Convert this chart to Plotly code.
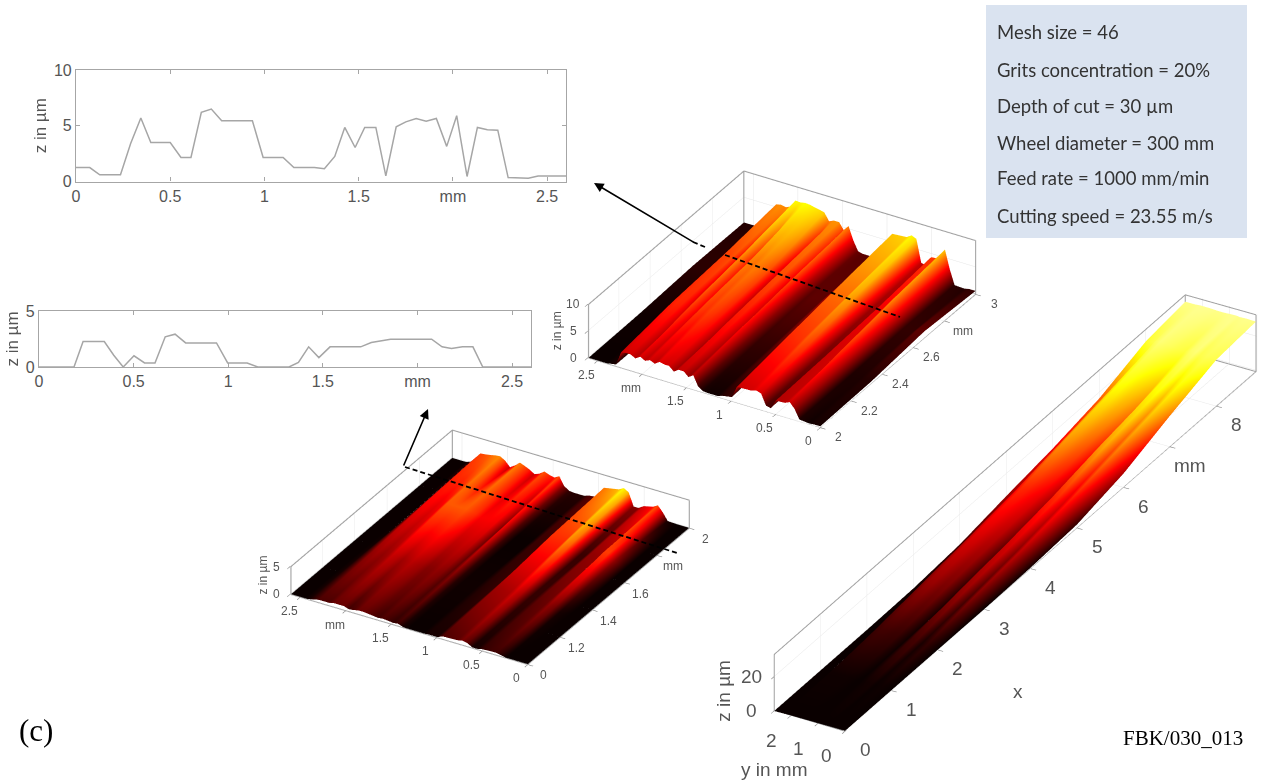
import math
import plotly.graph_objects as go

W, H = 1262, 783
# ---- profile charts
line1_x = [0,.073,.126,.236,.29,.344,.397,.5,.557,.61,.665,.718,.773,.936,.993,1.099,1.156,1.265,1.318,1.373,1.426,1.481,1.532,1.591,1.644,1.699,1.75,1.805,1.858,1.912,1.967,2.02,2.075,2.13,2.183,2.238,2.293,2.4,2.452,2.6]
line1_z = [1.25,1.25,.6,.6,3.4,5.7,3.5,3.5,2.15,2.15,6.2,6.5,5.45,5.45,2.15,2.15,1.25,1.25,1.15,2.25,4.85,3.05,4.85,4.85,.5,4.9,5.35,5.65,5.4,5.65,3.15,5.9,.45,4.85,4.65,4.6,.35,.3,.5,.5]
line2_x = [0,.185,.233,.345,.395,.445,.502,.558,.613,.667,.719,.775,.938,.997,1.1,1.156,1.321,1.371,1.425,1.479,1.538,1.7,1.756,1.858,1.97,2.075,2.13,2.18,2.238,2.293,2.345,2.6]
line2_z = [0,0,2.27,2.27,1.05,0,1,.36,.36,2.7,2.93,2.15,2.15,.36,.36,0,0,.4,1.8,.84,1.8,1.8,2.18,2.48,2.48,2.48,1.8,1.65,1.8,1.8,0,0]
# ---- surfaces
y_grid = line1_x
top_x = [2.0, 2.33, 2.67, 3.0]
top_z0 = [.2,.2,.1,.3,2.0,3.0,2.6,2.5,.8,1.0,3.0,3.3,3.0,2.9,.7,.4,.1,.1,.2,.8,2.6,2.0,2.8,2.8,2.2,3.0,3.0,3.2,2.6,3.0,2.6,3.1,2.5,3.0,3.0,2.8,.3,0,0,0]
top_z1 = [.4,.4,.3,.3,2.6,4.4,3.0,2.9,1.5,1.6,4.6,5.0,4.4,4.2,1.4,1.2,.6,.6,.6,1.6,3.8,2.8,3.9,3.9,2.4,4.0,4.4,4.6,4.3,4.6,3.4,4.7,2.8,4.1,4.2,4.0,.3,.1,.1,.1]
top_z2 = line1_z
top_z3 = [.6,.6,.4,.5,3.2,6.6,4.6,4.4,2.6,2.8,7.0,7.4,6.8,6.6,2.8,2.6,1.2,1.2,1.4,3.2,5.6,4.6,5.8,5.8,5.4,6.8,7.0,7.2,7.4,7.5,7.3,7.4,6.0,5.6,5.8,5.6,.5,.3,.4,.4]
bot_x = [1.0, 1.33, 1.67, 2.0]
bot_z0 = [0,0,0,0,.2,.4,.4,.3,.1,.1,.6,.8,.6,.5,.1,.1,0,0,0,.1,.4,.3,.4,.5,.4,.5,.6,.7,.7,.5,.4,.7,.7,.7,.5,.5,.5,.1,0,0]
bot_z1 = [0,0,0,.1,.8,1.0,.7,.6,.3,.3,1.2,1.5,1.2,1.1,.3,.2,.05,.05,.05,.2,.9,.6,.9,1.0,.9,.9,1.1,1.2,1.3,1.2,1.1,1.3,1.4,1.1,1.0,1.1,1.0,.1,0,0]
bot_z2 = [0,0,0,1.0,2.27,2.27,1.05,1.0,.36,.36,2.65,2.93,2.15,2.15,.4,.36,0,0,0,.4,1.8,.84,1.75,1.8,1.8,1.8,2.15,2.3,2.48,2.48,2.48,2.48,2.48,1.8,1.65,1.8,1.8,0,0,0]
bot_z3 = [0,0,0,.1,1.4,2.4,1.9,1.5,.9,.9,3.2,3.7,3.2,2.7,.7,.5,.2,.2,.3,.9,2.4,1.9,2.1,2.45,1.8,1.45,2.0,2.4,2.75,2.0,1.4,2.3,2.85,2.75,2.55,2.4,2.3,.3,0,0]
big_y = [0,.35,.6,.72,.93,1.16,1.43,1.6,1.85,2.05,2.25,2.3,2.6]
big_x = [0,1,2,3,4,5,6,7,8,8.85]
big_z = [
 [0,0,0,0,0,0,0,0,0,0,0,0,0],
 [0,.3,.1,.5,.4,0,.2,.3,.3,.3,.3,0,0],
 [0,2.0,.8,3.0,2.7,.4,2.3,2.4,2.7,2.8,2.4,.2,0],
 [0,6,3,7,6.5,1,5.5,5.5,7,7,5.5,.5,.5],
 [.5,9,6,10,9.5,3,8,8.5,10,10.5,8.5,3,2.5],
 [2,13,10,14,13.5,7,11,12,13.5,14,12,8,7],
 [8,18,15,20,19,12,16,17,19,20,17,13,11],
 [18,23,20,24,23.5,19,21,22,24,24.5,22,18,16.5],
 [27,27.5,27,28.5,28,26.5,27,27.5,28,28.5,27.5,27,26],
 [29,29.2,29,29.3,29.2,29,29,29.2,29.3,29.3,29,29,29],
]
hot = [[0,"#0a0000"],[.365,"#ff0000"],[.746,"#ffff00"],[1,"#ffffff"]]
box_lines = ["Mesh size = 46","Grits concentration = 20%","Depth of cut = 30 µm","Wheel diameter = 300 mm","Feed rate = 1000 mm/min","Cutting speed = 23.55 m/s"]
box_rows = [32,70,106,143,178,216]
K = 1.0   # px-per-unit calibration

def frame(xr, yr, zr):
    x0,x1=xr; y0,y1=yr; z0,z1=zr
    xs=[x0,x0,None,x0,x0,x1,x1,None,x1,x1,x0,None,x0,x1,None,x1,x1,None,x1,x1]
    ys=[y0,y1,None,y1,y1,y1,y0,None,y0,y0,y0,None,y1,y1,None,y1,y0,None,y1,y1]
    zs=[z0,z0,None,z0,z1,z1,z1,None,z1,z0,z0,None,z0,z0,None,z0,z0,None,z0,z1]
    return go.Scatter3d(x=xs,y=ys,z=zs,mode="lines",line=dict(color="#a0a0a0",width=2),hoverinfo="skip",showlegend=False)

def scene(cx, cy, w, h, pxl, psi, phi, xr, yr, zr, xt, yt, zt, anns, full=False):
    s = K*h/2
    psi_r, phi_r = math.radians(psi), math.radians(phi)
    e = (math.cos(phi_r)*math.cos(psi_r), math.cos(phi_r)*math.sin(psi_r), math.sin(phi_r))
    if full:
        dom = dict(x=[0,1], y=[0,1]); s = K*H/2
        dx, dy = cx-W/2, H/2-cy
    else:
        dom = dict(x=[(cx-w/2)/W,(cx+w/2)/W], y=[1-(cy+h/2)/H,1-(cy-h/2)/H]); dx=dy=0
    r = (-math.sin(psi_r), math.cos(psi_r), 0)
    u = (-math.sin(phi_r)*math.cos(psi_r), -math.sin(phi_r)*math.sin(psi_r), math.cos(phi_r))
    c = [-(dx*r[i]+dy*u[i])/s for i in range(3)]
    ax = dict(showbackground=False, showgrid=True, gridcolor="#e6e6e6", gridwidth=1, zeroline=False, showline=False,
              showticklabels=False, ticks="outside", ticklen=6, tickcolor="#888888", tickwidth=1.5, title=dict(text=""), showspikes=False)
    return dict(
        domain=dom,
        aspectmode="manual", aspectratio=dict(x=pxl[0]/s,y=pxl[1]/s,z=pxl[2]/s),
        camera=dict(eye=dict(x=c[0]+e[0],y=c[1]+e[1],z=c[2]+e[2]), up=dict(x=0,y=0,z=1), center=dict(x=c[0],y=c[1],z=c[2]), projection=dict(type="orthographic")),
        bgcolor="rgba(0,0,0,0)", dragmode=False,
        xaxis=dict(ax, range=xr, tickvals=xt), yaxis=dict(ax, range=yr, tickvals=yt), zaxis=dict(ax, range=zr, tickvals=zt),
        annotations=anns)

def lab(x,y,z,t,dx,dy,size,angle=0):
    return dict(x=x,y=y,z=z,text=t,showarrow=False,xshift=dx,yshift=-dy,textangle=angle,
                font=dict(family="Liberation Sans",size=size,color="#555555"))

def surf(x,y,z,cmax,name):
    return go.Surface(x=x,y=y,z=z,cmin=0,cmax=cmax,colorscale=hot,showscale=False,scene=name,hoverinfo="skip",
                      lighting=dict(ambient=1,diffuse=0,specular=0,roughness=1,fresnel=0))

fig = go.Figure()
# 2D charts
fig.add_trace(go.Scatter(x=line1_x,y=line1_z,mode="lines",line=dict(color="#a6a6a6",width=1.5),xaxis="x",yaxis="y",showlegend=False))
fig.add_trace(go.Scatter(x=line2_x,y=line2_z,mode="lines",line=dict(color="#a6a6a6",width=1.5),xaxis="x2",yaxis="y2",showlegend=False))

# scenes
y_ticks_txt = [(0,"0"),(.5,"0.5"),(1,"1"),(1.5,"1.5"),(2,"mm"),(2.5,"2.5")]
top_labs = [lab(2,v,0,t,-11,14,12) for v,t in y_ticks_txt]
top_labs += [lab(v,0,0,t,19,10,12) for v,t in [(2,"2"),(2.2,"2.2"),(2.4,"2.4"),(2.6,"2.6"),(2.8,"mm"),(3,"3")]]
top_labs += [lab(2,2.6,v,t,-15,0,12) for v,t in [(0,"0"),(5,"5"),(10,"10")]]
top_labs += [lab(2,2.6,5,"z in µm",-31,0,12,-90)]
bot_labs = [lab(1,v,0,t,-11,14,12) for v,t in y_ticks_txt]
bot_labs += [lab(v,0,0,t,16,11,12) for v,t in [(1,"0"),(1.2,"1.2"),(1.4,"1.4"),(1.6,"1.6"),(1.8,"mm"),(2,"2")]]
bot_labs += [lab(1,2.6,v,t,-15,0,12) for v,t in [(0,"0"),(5,"5")]]
bot_labs += [lab(1,2.6,2.5,"z in µm",-28,-5,12,-90)]
big_labs = [lab(0,v,0,t,-19,25,19) for v,t in [(0,"0"),(1,"1"),(2,"2")]]
big_labs += [lab(v,0,0,t,20,19,19) for v,t in [(0,"0"),(1,"1"),(2,"2"),(3,"3"),(4,"4"),(5,"5"),(6,"6"),(7,"mm"),(8,"8")]]
big_labs += [lab(0,2.6,v,t,-23,0,19) for v,t in [(0,"0"),(20,"20")]]
big_labs += [lab(0,2.6,12,"z in µm",-51,0,19,-90), lab(0,1.3,0,"y in mm",-35,49,19), lab(3.6,0,0,"x",6,107,19)]

fig.add_trace(frame([2,3],[0,2.6],[-.05,10]).update(scene="scene"))
fig.add_trace(surf(top_x,y_grid,[list(c) for c in zip(top_z0,top_z1,top_z2,top_z3)],10,"scene"))
fig.add_trace(frame([1,2],[0,2.6],[-.03,5]).update(scene="scene2"))
fig.add_trace(surf(bot_x,y_grid,[list(c) for c in zip(bot_z0,bot_z1,bot_z2,bot_z3)],5,"scene2"))
fig.add_trace(frame([0,8.85],[0,2.6],[-.15,33]).update(scene="scene3"))
fig.add_trace(surf(big_x,big_y,[list(c) for c in zip(*big_z)],33,"scene3"))

def axis2(dom, rng, tv, tt, anchor, size=16):
    return dict(domain=dom, range=rng, tickvals=tv, ticktext=tt, anchor=anchor, showgrid=False, zeroline=False,
                showline=True, mirror="all", linecolor="#a6a6a6", linewidth=1.2, ticks="inside", ticklen=4, tickcolor="#a6a6a6",
                automargin=False, tickfont=dict(family="Liberation Sans",size=size,color="#555555"))

ttl = dict(family="Liberation Sans",size=17,color="#555555")
fig.update_layout(
    width=W, height=H, autosize=False, margin=dict(l=0,r=0,t=0,b=0,pad=0,autoexpand=False), paper_bgcolor="white", plot_bgcolor="white", showlegend=False,
    xaxis=axis2([76/W,566/W],[0,2.6],[0,.5,1,1.5,2,2.5],["0","0.5","1","1.5","mm","2.5"],"y"),
    yaxis=dict(axis2([1-181.5/H,1-70/H],[0,10],[0,5,10],["0","5","10"],"x"),title=dict(text="z in µm",font=ttl,standoff=2)),
    xaxis2=axis2([39/W,531/W],[0,2.6],[0,.5,1,1.5,2,2.5],["0","0.5","1","1.5","mm","2.5"],"y2"),
    yaxis2=dict(axis2([1-367/H,1-311/H],[0,5],[0,5],["0","5"],"x2"),title=dict(text="z in µm",font=ttl,standoff=2)),
    scene=scene(781.5,299,460,400,(306,270,62.6),210.6,30.5,[2,3.003],[0,2.608],[-.05,10.03],[2,2.2,2.4,2.6,2.8,3],[0,.5,1,1.5,2,2.5],[0,5,10],top_labs),
    scene2=scene(490,547,480,400,(318,276,32.4),210.6,30,[1,2.003],[0,2.608],[-.03,5.02],[1,1.2,1.4,1.6,1.8,2],[0,.5,1,1.5,2,2.5],[0,5],bot_labs),
    scene3=scene(1015.5,512.5,490,500,(834,81.6,65.7),209.6,29.8,[0,8.87],[0,2.608],[-.15,33.1],[1,2,3,4,5,6,7,8],[0,1,2],[0,20],big_labs,full=True),
    shapes=[
        dict(type="rect",xref="paper",yref="paper",x0=986/W,x1=1247/W,y0=1-238/H,y1=1-5/H,fillcolor="#dae3f0",line=dict(width=0),layer="below"),
        dict(type="line",xref="paper",yref="paper",x0=725/W,x1=900/W,y0=1-255/H,y1=1-317/H,line=dict(color="black",width=1.8,dash="5px,3px")),
        dict(type="line",xref="paper",yref="paper",x0=693/W,x1=705/W,y0=1-242/H,y1=1-247/H,line=dict(color="black",width=1.8,dash="5px,3px")),
        dict(type="line",xref="paper",yref="paper",x0=405/W,x1=677/W,y0=1-467/H,y1=1-553/H,line=dict(color="black",width=1.8,dash="5px,3px")),
    ],
    annotations=[dict(xref="paper",yref="paper",x=995/W,y=1-r/H,xanchor="left",yanchor="middle",text=t,showarrow=False,
                      font=dict(family="Lato",size=18.5,color="#333333")) for r,t in zip(box_rows,box_lines)]+[
        dict(xref="paper",yref="paper",x=17/W,y=1-730/H,xanchor="left",yanchor="middle",text="(c)",showarrow=False,font=dict(family="Liberation Serif",size=31,color="black")),
        dict(xref="paper",yref="paper",x=1121/W,y=1-738/H,xanchor="left",yanchor="middle",text="FBK/030_013",showarrow=False,font=dict(family="Liberation Serif",size=21,color="black")),
        dict(xref="paper",yref="paper",axref="pixel",ayref="pixel",x=594/W,y=1-183/H,ax=101,ay=60,text="",showarrow=True,arrowhead=2,arrowsize=1.2,arrowwidth=1.6,arrowcolor="black"),
        dict(xref="paper",yref="paper",axref="pixel",ayref="pixel",x=428/W,y=1-409/H,ax=-25,ay=58,text="",showarrow=True,arrowhead=2,arrowsize=1.2,arrowwidth=1.6,arrowcolor="black"),
    ])
fig.write_html("out.html", config=dict(displayModeBar=False),
               post_script="document.body.style.margin='0';document.documentElement.style.overflow='hidden';")
